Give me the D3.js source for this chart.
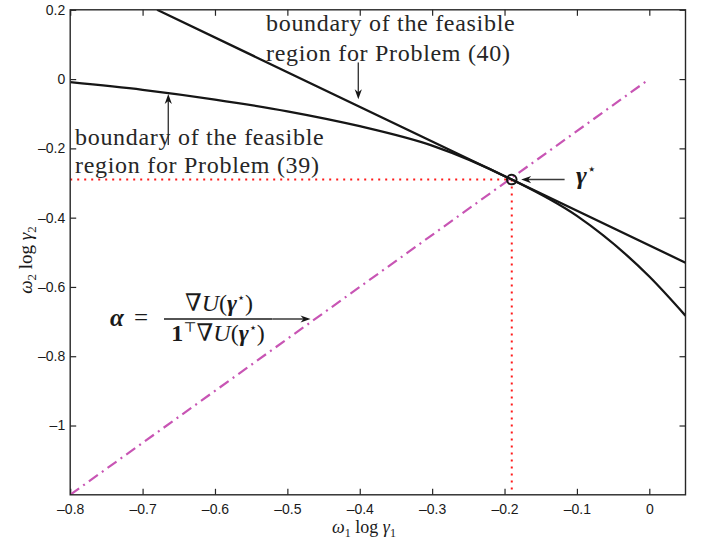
<!DOCTYPE html>
<html>
<head>
<meta charset="utf-8">
<script src="https://d3js.org/d3.v7.min.js"></script>
<style>
	body { margin:0; background:#fff; }
	.axis text { font-family:"Liberation Sans", Arial, sans-serif; font-size:14px; fill:#1a1a1a; }
	.axis line { stroke:#262626; stroke-width:1.2; }
	.note { font-family:"Liberation Serif", serif; font-size:24px; fill:#262626; letter-spacing:0.7px; }
	.math { font-family:"Liberation Serif", "DejaVu Serif", serif; fill:#1a1a1a; }
</style>
</head>
<body>
<script>
	//画布大小
	var width = 703;
	var height = 539;
	var svg = d3.select("body")
		.append("svg")
		.attr("width", width)
		.attr("height", height);

	//画布周边的空白
	var padding = {left:70.2, right:17.5, top:9.8, bottom:44.2};

	//刻度
	var xTicks = [-0.8, -0.7, -0.6, -0.5, -0.4, -0.3, -0.2, -0.1, 0];
	var yTicks = [0.2, 0, -0.2, -0.4, -0.6, -0.8, -1];

	//Problem (39) 的可行域边界
	var curve39X = [-0.8, -0.7, -0.6, -0.5, -0.4, -0.3, -0.19, -0.1, 0, 0.05];
	var curve39Y = [-0.009, -0.031, -0.059, -0.093, -0.136, -0.192, -0.29, -0.395, -0.57, -0.683];

	//Problem (40) 的可行域边界
	var line40X = [-0.68, -0.19, 0.05];
	var line40Y = [0.2, -0.29, -0.53];

	//alpha 方向
	var alphaX = [-0.8, 0];
	var alphaY = [-1.2, 0];

	//最优点
	var gammaStar = [-0.19, -0.29];

	//注释箭头 (数据坐标)
	var arrows = [
		{x1:-0.402, y1:0.048, x2:-0.402, y2:-0.058},
		{x1:-0.6645, y1:-0.19, x2:-0.6645, y2:-0.043},
		{x1:-0.117, y1:-0.29, x2:-0.177, y2:-0.29},
		{x1:-0.521, y1:-0.6926, x2:-0.468, y2:-0.6926}
	];

	//比例尺
	var xScale = d3.scaleLinear()
		.domain([-0.8, 0.05])
		.range([padding.left, width - padding.right]);
	var yScale = d3.scaleLinear()
		.domain([-1.2, 0.2])
		.range([height - padding.bottom, padding.top]);

	var fmt = function(d){
		return d === 0 ? "0" : String(d).replace("-", "\u2013");
	};

	//坐标轴 (刻度朝内)
	svg.append("g")
		.attr("class","axis")
		.attr("transform","translate(0," + yScale(-1.2) + ")")
		.call(d3.axisBottom(xScale).tickValues(xTicks).tickSize(-6).tickPadding(9).tickFormat(fmt))
		.select(".domain").remove();
	svg.append("g")
		.attr("class","axis")
		.attr("transform","translate(" + xScale(-0.8) + ",0)")
		.call(d3.axisLeft(yScale).tickValues(yTicks).tickSize(-6).tickPadding(5).tickFormat(fmt))
		.select(".domain").remove();
	svg.append("g")
		.attr("class","axis")
		.attr("transform","translate(0," + yScale(0.2) + ")")
		.call(d3.axisTop(xScale).tickValues(xTicks).tickSize(-6).tickFormat(""))
		.select(".domain").remove();
	svg.append("g")
		.attr("class","axis")
		.attr("transform","translate(" + xScale(0.05) + ",0)")
		.call(d3.axisRight(yScale).tickValues(yTicks).tickSize(-6).tickFormat(""))
		.select(".domain").remove();

	//裁剪
	svg.append("clipPath")
		.attr("id","plotClip")
		.append("rect")
		.attr("x", xScale(-0.8))
		.attr("y", yScale(0.2))
		.attr("width", xScale(0.05) - xScale(-0.8))
		.attr("height", yScale(-1.2) - yScale(0.2));

	var plot = svg.append("g").attr("clip-path","url(#plotClip)");

	var line = d3.line()
		.x(function(d){ return xScale(d[0]); })
		.y(function(d){ return yScale(d[1]); });

	//红色虚线
	plot.append("path")
		.attr("d", line([[-0.8, gammaStar[1]], gammaStar]))
		.attr("fill","none")
		.attr("stroke","#ff1a1a")
		.attr("stroke-width",2)
		.attr("stroke-dasharray","2,5");
	plot.append("path")
		.attr("d", line([gammaStar, [gammaStar[0], -1.2]]))
		.attr("fill","none")
		.attr("stroke","#ff1a1a")
		.attr("stroke-width",2)
		.attr("stroke-dasharray","2,5");

	//点划线
	plot.append("path")
		.attr("d", line(d3.zip(alphaX, alphaY)))
		.attr("fill","none")
		.attr("stroke","#c855b4")
		.attr("stroke-width",2.2)
		.attr("stroke-dasharray","11,5,2,5");

	//两条边界
	plot.append("path")
		.attr("d", line.curve(d3.curveMonotoneX)(d3.zip(curve39X, curve39Y)))
		.attr("fill","none")
		.attr("stroke","#161616")
		.attr("stroke-width",2.3);
	plot.append("path")
		.attr("d", line.curve(d3.curveLinear)(d3.zip(line40X, line40Y)))
		.attr("fill","none")
		.attr("stroke","#161616")
		.attr("stroke-width",2.3);

	//最优点圆圈
	svg.append("circle")
		.attr("cx", xScale(gammaStar[0]))
		.attr("cy", yScale(gammaStar[1]))
		.attr("r", 4.8)
		.attr("fill","none")
		.attr("stroke","#161616")
		.attr("stroke-width",2);

	//边框
	svg.append("rect")
		.attr("x", xScale(-0.8))
		.attr("y", yScale(0.2))
		.attr("width", xScale(0.05) - xScale(-0.8))
		.attr("height", yScale(-1.2) - yScale(0.2))
		.attr("fill","none")
		.attr("stroke","#262626")
		.attr("stroke-width",1.4);

	//箭头
	arrows.forEach(function(a){
		var x1 = xScale(a.x1), y1 = yScale(a.y1), x2 = xScale(a.x2), y2 = yScale(a.y2);
		var len = Math.sqrt((x2-x1)*(x2-x1) + (y2-y1)*(y2-y1));
		var ux = (x2-x1)/len, uy = (y2-y1)/len;
		var nx = -uy, ny = ux;
		svg.append("line")
			.attr("x1", x1).attr("y1", y1)
			.attr("x2", x2 - 6*ux).attr("y2", y2 - 6*uy)
			.attr("stroke","#3a3a3a")
			.attr("stroke-width",1.4);
		svg.append("path")
			.attr("d", "M" + x2 + "," + y2 +
				"L" + (x2 - 10*ux + 3.6*nx) + "," + (y2 - 10*uy + 3.6*ny) +
				"L" + (x2 - 7*ux) + "," + (y2 - 7*uy) +
				"L" + (x2 - 10*ux - 3.6*nx) + "," + (y2 - 10*uy - 3.6*ny) + "Z")
			.attr("fill","#161616");
	});

	//注释文字
	var note40 = svg.append("text").attr("class","note");
	note40.append("tspan").attr("x",266).attr("y",31).text("boundary of the feasible");
	note40.append("tspan").attr("x",266).attr("y",61).text("region for Problem (40)");

	var note39 = svg.append("text").attr("class","note");
	note39.append("tspan").attr("x",75).attr("y",145).text("boundary of the feasible");
	note39.append("tspan").attr("x",75).attr("y",173).text("region for Problem (39)");

	//gamma* 标签
	var gLabel = svg.append("text")
		.attr("class","math")
		.attr("x",576)
		.attr("y",184)
		.attr("font-size",26);
	gLabel.append("tspan").attr("font-style","italic").attr("font-weight","bold").text("\u03b3");
	gLabel.append("tspan").attr("dy",-10).attr("font-size",15).text("\u22c6");

	//alpha 公式
	svg.append("text")
		.attr("class","math")
		.attr("x",110)
		.attr("y",326)
		.attr("font-size",25)
		.attr("font-style","italic")
		.attr("font-weight","bold")
		.text("\u03b1");
	svg.append("text")
		.attr("class","math")
		.attr("x",134)
		.attr("y",326)
		.attr("font-size",25)
		.text("=");

	svg.append("line")
		.attr("x1",164).attr("y1",yScale(-0.6926))
		.attr("x2",272).attr("y2",yScale(-0.6926))
		.attr("stroke","#1a1a1a")
		.attr("stroke-width",1.4);

	var num = svg.append("text")
		.attr("class","math")
		.attr("x",219)
		.attr("y",311)
		.attr("text-anchor","middle")
		.attr("font-size",24);
	num.append("tspan").text("\u2207");
	num.append("tspan").attr("font-style","italic").text("U");
	num.append("tspan").text("(");
	num.append("tspan").attr("font-style","italic").attr("font-weight","bold").text("\u03b3");
	num.append("tspan").attr("dy",-9).attr("font-size",13).text("\u22c6");
	num.append("tspan").attr("dy",9).text(")");

	var den = svg.append("text")
		.attr("class","math")
		.attr("x",218)
		.attr("y",341)
		.attr("text-anchor","middle")
		.attr("font-size",24);
	den.append("tspan").attr("font-weight","bold").text("1");
	den.append("tspan").attr("dy",-9).attr("font-size",14).text("\u22a4");
	den.append("tspan").attr("dy",9).text("\u2207");
	den.append("tspan").attr("font-style","italic").text("U");
	den.append("tspan").text("(");
	den.append("tspan").attr("font-style","italic").attr("font-weight","bold").text("\u03b3");
	den.append("tspan").attr("dy",-9).attr("font-size",13).text("\u22c6");
	den.append("tspan").attr("dy",9).text(")");

	//坐标轴标题
	var xLabel = svg.append("text")
		.attr("class","math")
		.attr("x",364)
		.attr("y",533)
		.attr("text-anchor","middle")
		.attr("font-size",18);
	xLabel.append("tspan").attr("font-style","italic").text("\u03c9");
	xLabel.append("tspan").attr("dy",4).attr("font-size",12).text("1");
	xLabel.append("tspan").attr("dy",-4).text(" log ");
	xLabel.append("tspan").attr("font-style","italic").text("\u03b3");
	xLabel.append("tspan").attr("dy",4).attr("font-size",12).text("1");

	var yLabel = svg.append("text")
		.attr("class","math")
		.attr("transform","translate(32,260) rotate(-90)")
		.attr("text-anchor","middle")
		.attr("font-size",19);
	yLabel.append("tspan").attr("font-style","italic").text("\u03c9");
	yLabel.append("tspan").attr("dy",4).attr("font-size",13).text("2");
	yLabel.append("tspan").attr("dy",-4).text(" log ");
	yLabel.append("tspan").attr("font-style","italic").text("\u03b3");
	yLabel.append("tspan").attr("dy",4).attr("font-size",13).text("2");
</script>
</body>
</html>
